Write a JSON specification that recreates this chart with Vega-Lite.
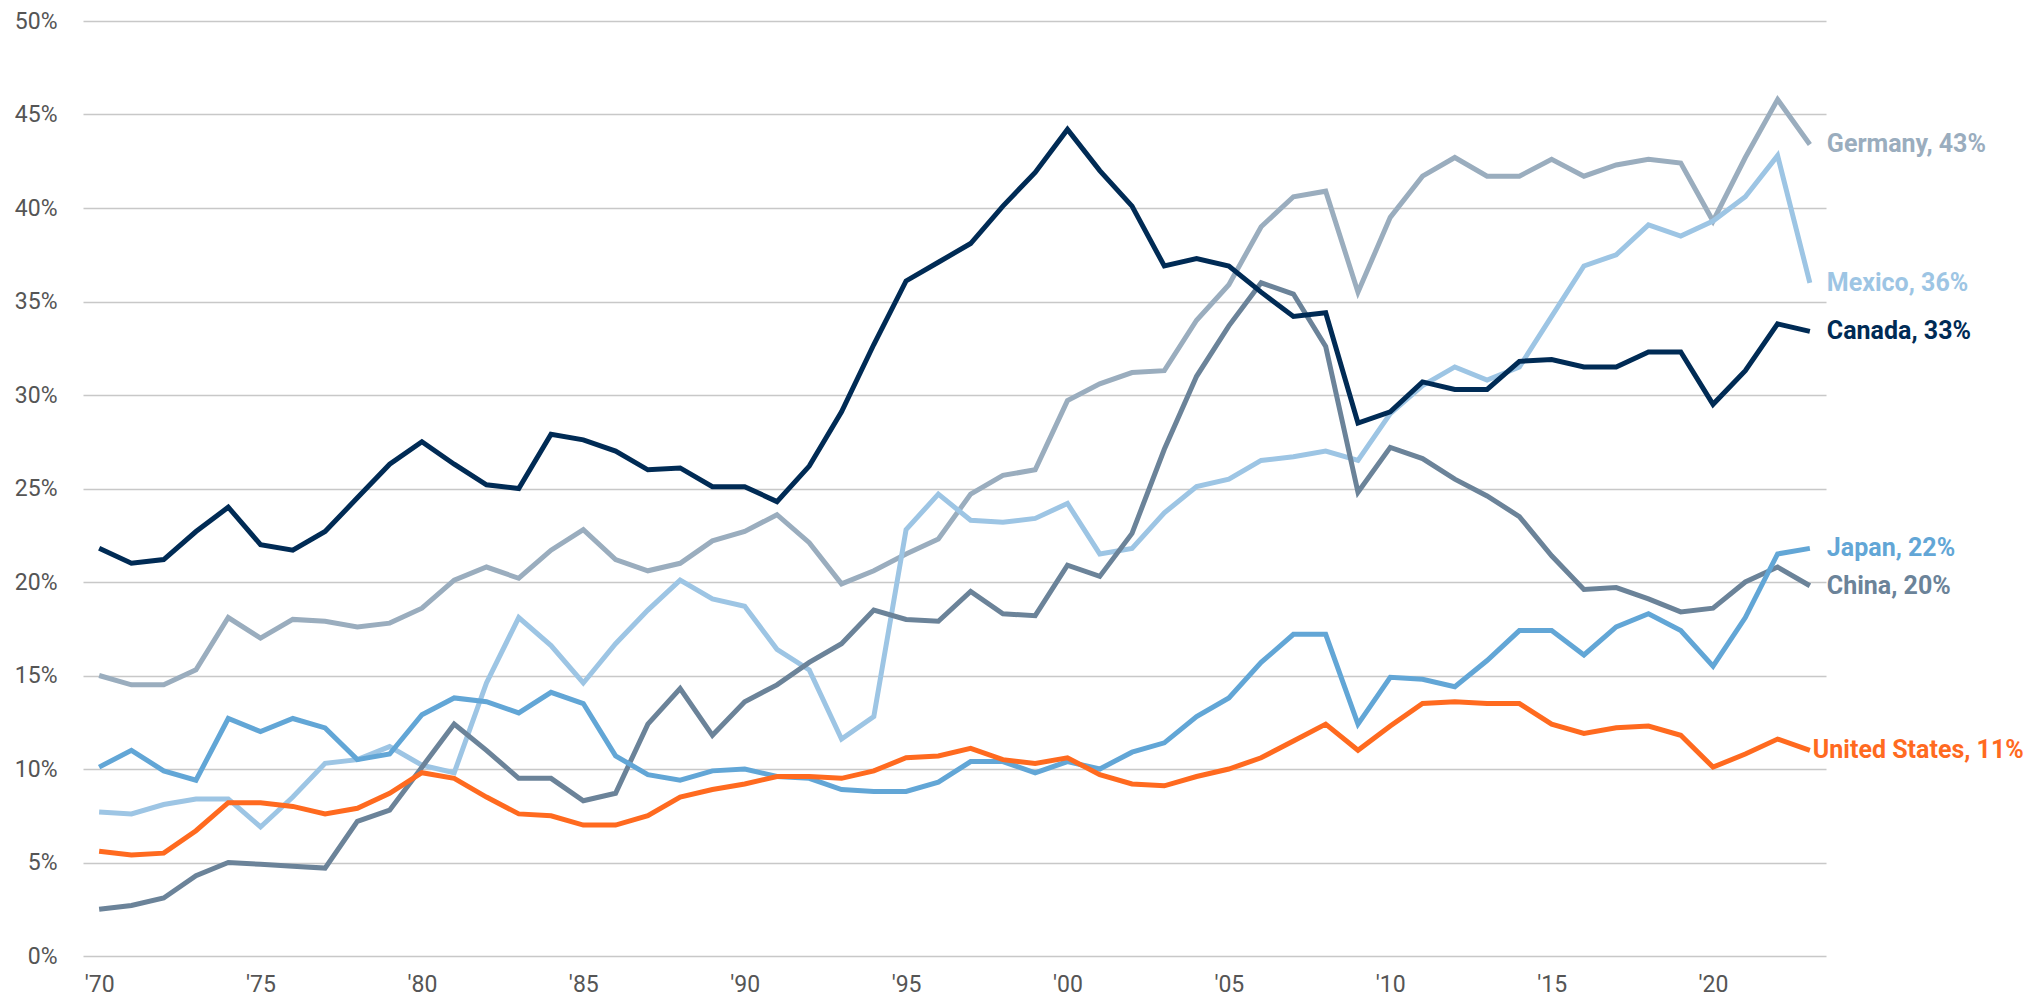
{
  "$schema": "https://vega.github.io/schema/vega-lite/v6.json",
  "width": 1743,
  "height": 935,
  "autosize": {"type": "none"},
  "padding": {"left": 83, "top": 21, "right": 211, "bottom": 47},
  "background": "#ffffff",
  "config": {
    "view": {"stroke": null},
    "font": "Liberation Sans Narrow, Roboto, sans-serif"
  },
  "data": {
    "values": [
      {"year": 1970, "Canada": 21.8, "Germany": 15.0, "Mexico": 7.7, "China": 2.5, "Japan": 10.1, "United States": 5.6},
      {"year": 1971, "Canada": 21.0, "Germany": 14.5, "Mexico": 7.6, "China": 2.7, "Japan": 11.0, "United States": 5.4},
      {"year": 1972, "Canada": 21.2, "Germany": 14.5, "Mexico": 8.1, "China": 3.1, "Japan": 9.9, "United States": 5.5},
      {"year": 1973, "Canada": 22.7, "Germany": 15.3, "Mexico": 8.4, "China": 4.3, "Japan": 9.4, "United States": 6.7},
      {"year": 1974, "Canada": 24.0, "Germany": 18.1, "Mexico": 8.4, "China": 5.0, "Japan": 12.7, "United States": 8.2},
      {"year": 1975, "Canada": 22.0, "Germany": 17.0, "Mexico": 6.9, "China": 4.9, "Japan": 12.0, "United States": 8.2},
      {"year": 1976, "Canada": 21.7, "Germany": 18.0, "Mexico": 8.5, "China": 4.8, "Japan": 12.7, "United States": 8.0},
      {"year": 1977, "Canada": 22.7, "Germany": 17.9, "Mexico": 10.3, "China": 4.7, "Japan": 12.2, "United States": 7.6},
      {"year": 1978, "Canada": 24.5, "Germany": 17.6, "Mexico": 10.5, "China": 7.2, "Japan": 10.5, "United States": 7.9},
      {"year": 1979, "Canada": 26.3, "Germany": 17.8, "Mexico": 11.2, "China": 7.8, "Japan": 10.8, "United States": 8.7},
      {"year": 1980, "Canada": 27.5, "Germany": 18.6, "Mexico": 10.2, "China": 10.1, "Japan": 12.9, "United States": 9.8},
      {"year": 1981, "Canada": 26.3, "Germany": 20.1, "Mexico": 9.8, "China": 12.4, "Japan": 13.8, "United States": 9.5},
      {"year": 1982, "Canada": 25.2, "Germany": 20.8, "Mexico": 14.6, "China": 11.0, "Japan": 13.6, "United States": 8.5},
      {"year": 1983, "Canada": 25.0, "Germany": 20.2, "Mexico": 18.1, "China": 9.5, "Japan": 13.0, "United States": 7.6},
      {"year": 1984, "Canada": 27.9, "Germany": 21.7, "Mexico": 16.6, "China": 9.5, "Japan": 14.1, "United States": 7.5},
      {"year": 1985, "Canada": 27.6, "Germany": 22.8, "Mexico": 14.6, "China": 8.3, "Japan": 13.5, "United States": 7.0},
      {"year": 1986, "Canada": 27.0, "Germany": 21.2, "Mexico": 16.7, "China": 8.7, "Japan": 10.7, "United States": 7.0},
      {"year": 1987, "Canada": 26.0, "Germany": 20.6, "Mexico": 18.5, "China": 12.4, "Japan": 9.7, "United States": 7.5},
      {"year": 1988, "Canada": 26.1, "Germany": 21.0, "Mexico": 20.1, "China": 14.3, "Japan": 9.4, "United States": 8.5},
      {"year": 1989, "Canada": 25.1, "Germany": 22.2, "Mexico": 19.1, "China": 11.8, "Japan": 9.9, "United States": 8.9},
      {"year": 1990, "Canada": 25.1, "Germany": 22.7, "Mexico": 18.7, "China": 13.6, "Japan": 10.0, "United States": 9.2},
      {"year": 1991, "Canada": 24.3, "Germany": 23.6, "Mexico": 16.4, "China": 14.5, "Japan": 9.6, "United States": 9.6},
      {"year": 1992, "Canada": 26.2, "Germany": 22.1, "Mexico": 15.3, "China": 15.7, "Japan": 9.5, "United States": 9.6},
      {"year": 1993, "Canada": 29.1, "Germany": 19.9, "Mexico": 11.6, "China": 16.7, "Japan": 8.9, "United States": 9.5},
      {"year": 1994, "Canada": 32.7, "Germany": 20.6, "Mexico": 12.8, "China": 18.5, "Japan": 8.8, "United States": 9.9},
      {"year": 1995, "Canada": 36.1, "Germany": 21.5, "Mexico": 22.8, "China": 18.0, "Japan": 8.8, "United States": 10.6},
      {"year": 1996, "Canada": 37.1, "Germany": 22.3, "Mexico": 24.7, "China": 17.9, "Japan": 9.3, "United States": 10.7},
      {"year": 1997, "Canada": 38.1, "Germany": 24.7, "Mexico": 23.3, "China": 19.5, "Japan": 10.4, "United States": 11.1},
      {"year": 1998, "Canada": 40.1, "Germany": 25.7, "Mexico": 23.2, "China": 18.3, "Japan": 10.4, "United States": 10.5},
      {"year": 1999, "Canada": 41.9, "Germany": 26.0, "Mexico": 23.4, "China": 18.2, "Japan": 9.8, "United States": 10.3},
      {"year": 2000, "Canada": 44.2, "Germany": 29.7, "Mexico": 24.2, "China": 20.9, "Japan": 10.4, "United States": 10.6},
      {"year": 2001, "Canada": 42.0, "Germany": 30.6, "Mexico": 21.5, "China": 20.3, "Japan": 10.0, "United States": 9.7},
      {"year": 2002, "Canada": 40.1, "Germany": 31.2, "Mexico": 21.8, "China": 22.6, "Japan": 10.9, "United States": 9.2},
      {"year": 2003, "Canada": 36.9, "Germany": 31.3, "Mexico": 23.7, "China": 27.1, "Japan": 11.4, "United States": 9.1},
      {"year": 2004, "Canada": 37.3, "Germany": 34.0, "Mexico": 25.1, "China": 31.0, "Japan": 12.8, "United States": 9.6},
      {"year": 2005, "Canada": 36.9, "Germany": 35.9, "Mexico": 25.5, "China": 33.7, "Japan": 13.8, "United States": 10.0},
      {"year": 2006, "Canada": 35.5, "Germany": 39.0, "Mexico": 26.5, "China": 36.0, "Japan": 15.7, "United States": 10.6},
      {"year": 2007, "Canada": 34.2, "Germany": 40.6, "Mexico": 26.7, "China": 35.4, "Japan": 17.2, "United States": 11.5},
      {"year": 2008, "Canada": 34.4, "Germany": 40.9, "Mexico": 27.0, "China": 32.6, "Japan": 17.2, "United States": 12.4},
      {"year": 2009, "Canada": 28.5, "Germany": 35.5, "Mexico": 26.5, "China": 24.8, "Japan": 12.4, "United States": 11.0},
      {"year": 2010, "Canada": 29.1, "Germany": 39.5, "Mexico": 29.0, "China": 27.2, "Japan": 14.9, "United States": 12.3},
      {"year": 2011, "Canada": 30.7, "Germany": 41.7, "Mexico": 30.5, "China": 26.6, "Japan": 14.8, "United States": 13.5},
      {"year": 2012, "Canada": 30.3, "Germany": 42.7, "Mexico": 31.5, "China": 25.5, "Japan": 14.4, "United States": 13.6},
      {"year": 2013, "Canada": 30.3, "Germany": 41.7, "Mexico": 30.8, "China": 24.6, "Japan": 15.8, "United States": 13.5},
      {"year": 2014, "Canada": 31.8, "Germany": 41.7, "Mexico": 31.5, "China": 23.5, "Japan": 17.4, "United States": 13.5},
      {"year": 2015, "Canada": 31.9, "Germany": 42.6, "Mexico": 34.2, "China": 21.4, "Japan": 17.4, "United States": 12.4},
      {"year": 2016, "Canada": 31.5, "Germany": 41.7, "Mexico": 36.9, "China": 19.6, "Japan": 16.1, "United States": 11.9},
      {"year": 2017, "Canada": 31.5, "Germany": 42.3, "Mexico": 37.5, "China": 19.7, "Japan": 17.6, "United States": 12.2},
      {"year": 2018, "Canada": 32.3, "Germany": 42.6, "Mexico": 39.1, "China": 19.1, "Japan": 18.3, "United States": 12.3},
      {"year": 2019, "Canada": 32.3, "Germany": 42.4, "Mexico": 38.5, "China": 18.4, "Japan": 17.4, "United States": 11.8},
      {"year": 2020, "Canada": 29.5, "Germany": 39.3, "Mexico": 39.3, "China": 18.6, "Japan": 15.5, "United States": 10.1},
      {"year": 2021, "Canada": 31.3, "Germany": 42.7, "Mexico": 40.6, "China": 20.0, "Japan": 18.1, "United States": 10.8},
      {"year": 2022, "Canada": 33.8, "Germany": 45.8, "Mexico": 42.8, "China": 20.8, "Japan": 21.5, "United States": 11.6},
      {"year": 2023, "Canada": 33.4, "Germany": 43.4, "Mexico": 36.0, "China": 19.8, "Japan": 21.8, "United States": 11.0}
    ]
  },
  "transform": [
    {"fold": ["Germany", "Mexico", "China", "Japan", "United States", "Canada"], "as": ["country", "value"]}
  ],
  "encoding": {
    "x": {
      "field": "year", "type": "quantitative",
      "scale": {"domain": [1969.5, 2023.5], "nice": false, "zero": false},
      "axis": {
        "values": [1970, 1975, 1980, 1985, 1990, 1995, 2000, 2005, 2010, 2015, 2020],
        "labelExpr": "\"'\" + substring(toString(datum.value), 2)",
        "title": null, "grid": false, "domain": false, "ticks": false,
        "labelFontSize": 23, "labelColor": "#555555", "labelPadding": 17,
        "labelFont": "Liberation Sans Narrow, Roboto, sans-serif"
      }
    },
    "y": {
      "field": "value", "type": "quantitative",
      "scale": {"domain": [0, 50], "nice": false},
      "axis": {
        "values": [0, 5, 10, 15, 20, 25, 30, 35, 40, 45, 50],
        "labelExpr": "datum.value + '%'",
        "title": null, "domain": false, "ticks": false,
        "grid": true, "gridColor": "#c8c8c8", "gridWidth": 1.5,
        "labelFontSize": 23, "labelColor": "#555555", "labelPadding": 26,
        "labelFont": "Liberation Sans Narrow, Roboto, sans-serif"
      }
    },
    "color": {
      "field": "country", "type": "nominal",
      "scale": {
        "domain": ["Germany", "Mexico", "Canada", "Japan", "China", "United States"],
        "range": ["#9aadbe", "#9dc5e4", "#002b55", "#62a6d6", "#6b8399", "#ff6a1f"]
      },
      "legend": null
    }
  },
  "layer": [
    {
      "mark": {"type": "line", "strokeWidth": 5, "strokeJoin": "miter", "strokeCap": "butt"},
      "encoding": {"detail": {"field": "country"}}
    },
    {
      "transform": [
        {"filter": "datum.year == 2023 && datum.country != 'United States'"},
        {"calculate": "datum.country + ', ' + format(datum.value, '.0f') + '%'", "as": "label"}
      ],
      "mark": {"type": "text", "align": "left", "baseline": "middle", "dx": 17, "fontSize": 25, "fontWeight": "bold", "font": "Liberation Sans Narrow, Roboto, sans-serif"},
      "encoding": {"text": {"field": "label"}}
    },
    {
      "transform": [
        {"filter": "datum.year == 2023 && datum.country == 'United States'"},
        {"calculate": "datum.country + ', ' + format(datum.value, '.0f') + '%'", "as": "label"}
      ],
      "mark": {"type": "text", "align": "left", "baseline": "middle", "dx": 3, "fontSize": 25, "fontWeight": "bold", "font": "Liberation Sans Narrow, Roboto, sans-serif"},
      "encoding": {"text": {"field": "label"}}
    }
  ]
}
